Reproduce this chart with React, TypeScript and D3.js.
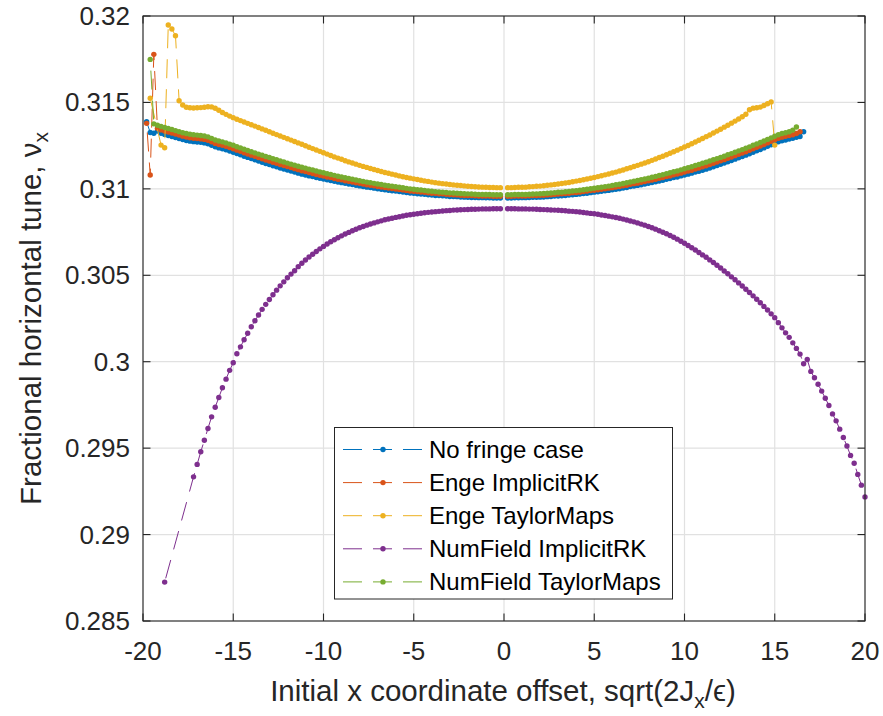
import * as d3 from 'd3';

// tune scan: initial amplitude grid is 0.2 apart, left and right halves run separately
const step = 0.2;

const xTicks = [-20, -15, -10, -5, 0, 5, 10, 15, 20];
const yTicks = [0.285, 0.29, 0.295, 0.3, 0.305, 0.31, 0.315, 0.32];
const yTickLabels = ['0.285', '0.29', '0.295', '0.3', '0.305', '0.31', '0.315', '0.32'];

const seriesNames = [
  'No fringe case',
  'Enge ImplicitRK',
  'Enge TaylorMaps',
  'NumField ImplicitRK',
  'NumField TaylorMaps',
];
const seriesColors = ['#0072BD', '#D95319', '#EDB120', '#7E2F8E', '#77AC30'];

// values listed from x = -0.2 outward (to -20) and from x = 0.2 outward (to 20)
// null = point missing, the dashed line still joins its neighbours
const noFringeLeft = [
  0.30947, 0.30947, 0.30947, 0.30948, 0.30948, 0.30949, 0.30949, 0.3095, 0.3095, 0.30951,
  0.30952, 0.30953, 0.30955, 0.30956, 0.30956, 0.30958, 0.3096, 0.30961, 0.30962, 0.30964,
  0.30966, 0.30969, 0.3097, 0.30972, 0.30975, 0.30976, 0.30979, 0.30982, 0.30984, 0.30987,
  0.30989, 0.30992, 0.30995, 0.30998, 0.31001, 0.31004, 0.31008, 0.3101, 0.31014, 0.31017,
  0.31021, 0.31025, 0.31028, 0.31032, 0.31036, 0.3104, 0.31044, 0.31048, 0.31053, 0.31057,
  0.31061, 0.31066, 0.31071, 0.31075, 0.3108, 0.31085, 0.31091, 0.31097, 0.31103, 0.31109,
  0.31115, 0.31121, 0.31128, 0.31134, 0.31141, 0.31147, 0.31154, 0.31161, 0.31168, 0.31175,
  0.31182, 0.31189, 0.31197, 0.31204, 0.31212, 0.31219, 0.31226, 0.31232, 0.31237, 0.31243,
  0.31252, 0.31261, 0.31266, 0.31269, 0.31271, 0.31273, 0.31276, 0.3128, 0.31285, 0.31291,
  0.31297, 0.31303, 0.31309, 0.31315, 0.31321, 0.31335, 0.31322, 0.31326, 0.31388,
];
const noFringeRight = [
  0.30947, 0.30947, 0.30948, 0.30948, 0.30949, 0.30949, 0.3095, 0.30951, 0.30951, 0.30952,
  0.30953, 0.30955, 0.30956, 0.30958, 0.30959, 0.3096, 0.30962, 0.30964, 0.30966, 0.30968,
  0.3097, 0.30973, 0.30975, 0.30978, 0.30981, 0.30983, 0.30986, 0.30989, 0.30991, 0.30995,
  0.30998, 0.31001, 0.31005, 0.31008, 0.31013, 0.31016, 0.3102, 0.31024, 0.31028, 0.31032,
  0.31037, 0.31041, 0.31045, 0.3105, 0.31055, 0.3106, 0.31065, 0.31069, 0.31075, 0.3108,
  0.31085, 0.31091, 0.31097, 0.31102, 0.31108, 0.31114, 0.31121, 0.31128, 0.31135, 0.31142,
  0.31149, 0.31157, 0.31164, 0.31172, 0.3118, 0.31187, 0.31195, 0.31203, 0.31212, 0.3122,
  0.31228, 0.31237, 0.31246, 0.31255, 0.31264, 0.31272, 0.31278, 0.31283, 0.31288, 0.31293,
  0.31298, 0.31303, 0.3133,
];

const engeRKLeft = [
  0.30957, 0.30957, 0.30957, 0.30958, 0.30958, 0.30959, 0.30959, 0.3096, 0.30961, 0.30962,
  0.30962, 0.30963, 0.30965, 0.30966, 0.30967, 0.30969, 0.30971, 0.30972, 0.30974, 0.30975,
  0.30977, 0.3098, 0.30982, 0.30984, 0.30986, 0.30988, 0.30991, 0.30994, 0.30997, 0.30999,
  0.31002, 0.31005, 0.31008, 0.31011, 0.31014, 0.31018, 0.31021, 0.31024, 0.31028, 0.31032,
  0.31035, 0.3104, 0.31044, 0.31047, 0.31052, 0.31055, 0.3106, 0.31065, 0.31069, 0.31074,
  0.31079, 0.31083, 0.31089, 0.31094, 0.311, 0.31105, 0.31111, 0.31117, 0.31123, 0.31129,
  0.31135, 0.31141, 0.31148, 0.31154, 0.31161, 0.31167, 0.31174, 0.31181, 0.31188, 0.31195,
  0.31202, 0.31209, 0.31217, 0.31224, 0.31232, 0.31239, 0.31246, 0.31252, 0.31257, 0.31263,
  0.31272, 0.31281, 0.31286, 0.31289, 0.31291, 0.31293, 0.31296, 0.313, 0.31305, 0.31311,
  0.31317, 0.31323, 0.31329, 0.31335, 0.31341, 0.3135, 0.31778, 0.3108, 0.31379,
];
const engeRKRight = [
  0.30957, 0.30957, 0.30958, 0.30958, 0.30959, 0.30959, 0.3096, 0.30961, 0.30962, 0.30963,
  0.30963, 0.30965, 0.30966, 0.30968, 0.3097, 0.30971, 0.30973, 0.30975, 0.30978, 0.30979,
  0.30981, 0.30984, 0.30987, 0.3099, 0.30992, 0.30995, 0.30998, 0.31001, 0.31004, 0.31007,
  0.31011, 0.31014, 0.31018, 0.31021, 0.31026, 0.3103, 0.31033, 0.31038, 0.31042, 0.31047,
  0.31051, 0.31056, 0.31061, 0.31065, 0.31071, 0.31075, 0.31081, 0.31086, 0.31091, 0.31097,
  0.31103, 0.31108, 0.31115, 0.31121, 0.31128, 0.31134, 0.31141, 0.31148, 0.31155, 0.31162,
  0.31169, 0.31177, 0.31184, 0.31192, 0.312, 0.31207, 0.31215, 0.31223, 0.31232, 0.3124,
  0.31248, 0.31257, 0.31266, 0.31275, 0.31284, 0.31293, 0.31299, 0.31304, 0.31309, 0.31313,
  0.3132, 0.3133,
];

const engeTMLeft = [
  0.31007, 0.31007, 0.31008, 0.31008, 0.31009, 0.3101, 0.31011, 0.31012, 0.31014, 0.31015,
  0.31017, 0.31019, 0.31021, 0.31023, 0.31025, 0.31028, 0.3103, 0.31033, 0.31036, 0.31039,
  0.31043, 0.31046, 0.3105, 0.31054, 0.31058, 0.31062, 0.31066, 0.3107, 0.31075, 0.3108,
  0.31085, 0.3109, 0.31095, 0.311, 0.31106, 0.31112, 0.31118, 0.31124, 0.3113, 0.31136,
  0.31143, 0.3115, 0.31156, 0.31163, 0.31171, 0.31178, 0.31185, 0.31193, 0.31201, 0.31209,
  0.31217, 0.31225, 0.31233, 0.31241, 0.31249, 0.31258, 0.31266, 0.31274, 0.31282, 0.3129,
  0.31298, 0.31306, 0.31314, 0.31322, 0.3133, 0.31339, 0.31347, 0.31355, 0.31363, 0.31371,
  0.31379, 0.31387, 0.31395, 0.31403, 0.31412, 0.31421, 0.31431, 0.31442, 0.31455, 0.31466,
  0.31474, 0.31475, 0.31472, 0.3147, 0.31469, 0.31468, 0.31469, 0.31472, 0.31485, 0.3151,
  0.31886, 0.31925, 0.31948, 0.31238, 0.31253, null, null, 0.31524,
];
const engeTMRight = [
  0.31007, 0.31007, 0.31008, 0.31009, 0.31009, 0.3101, 0.31012, 0.31013, 0.31015, 0.31016,
  0.31018, 0.31021, 0.31023, 0.31025, 0.31028, 0.31031, 0.31034, 0.31037, 0.31041, 0.31045,
  0.31048, 0.31053, 0.31057, 0.31061, 0.31066, 0.31071, 0.31076, 0.31081, 0.31086, 0.31092,
  0.31097, 0.31103, 0.31109, 0.31116, 0.31122, 0.31129, 0.31136, 0.31143, 0.3115, 0.31157,
  0.31165, 0.31173, 0.31181, 0.31189, 0.31197, 0.31206, 0.31215, 0.31224, 0.31233, 0.31242,
  0.31251, 0.31261, 0.31271, 0.31281, 0.31291, 0.31302, 0.31312, 0.31323, 0.31334, 0.31345,
  0.31357, 0.31368, 0.3138, 0.31392, 0.31404, 0.31417, 0.31432, 0.31458, 0.31467, 0.31469,
  0.31473, 0.31482, 0.31492, 0.31503, 0.31253,
];

const numRKLeft = [
  0.30885, 0.30885, 0.30885, 0.30884, 0.30884, 0.30884, 0.30883, 0.30882, 0.30882, 0.30881,
  0.3088, 0.30879, 0.30878, 0.30877, 0.30875, 0.30874, 0.30872, 0.3087, 0.30868, 0.30866,
  0.30864, 0.30862, 0.30859, 0.30856, 0.30853, 0.3085, 0.30847, 0.30843, 0.30839, 0.30835,
  0.3083, 0.30826, 0.30821, 0.30815, 0.30809, 0.30803, 0.30797, 0.3079, 0.30782, 0.30775,
  0.30766, 0.30758, 0.30748, 0.30739, 0.30728, 0.30717, 0.30706, 0.30694, 0.30681, 0.30667,
  0.30653, 0.30638, 0.30622, 0.30606, 0.30588, 0.3057, 0.3055, 0.30526, 0.30507, 0.30486,
  0.30462, 0.30439, 0.30414, 0.30387, 0.3036, 0.30332, 0.30303, 0.3027, 0.30237, 0.30202,
  0.30165, 0.30127, 0.30086, 0.30046, 0.29994, 0.2995, 0.29899, 0.29849, 0.29793, 0.29737,
  0.29681, 0.29614, 0.29546, 0.29479, 0.29406, 0.29334, null, null, null, null,
  null, null, null, 0.28725,
];
const numRKRight = [
  0.30885, 0.30885, 0.30885, 0.30884, 0.30884, 0.30884, 0.30883, 0.30883, 0.30882, 0.30881,
  0.3088, 0.30879, 0.30878, 0.30877, 0.30876, 0.30875, 0.30873, 0.30871, 0.3087, 0.30868,
  0.30866, 0.30863, 0.30861, 0.30858, 0.30856, 0.30853, 0.30849, 0.30846, 0.30842, 0.30838,
  0.30834, 0.3083, 0.30825, 0.3082, 0.30814, 0.30809, 0.30803, 0.30796, 0.3079, 0.30782,
  0.30775, 0.30767, 0.30758, 0.30749, 0.3074, 0.3073, 0.3072, 0.30709, 0.30697, 0.30685,
  0.30672, 0.30659, 0.30646, 0.30632, 0.30618, 0.30604, 0.30589, 0.30574, 0.30558, 0.30542,
  0.30525, 0.30509, 0.30491, 0.30474, 0.30456, 0.30438, 0.30419, 0.304, 0.30381, 0.30361,
  0.30341, 0.3032, 0.30299, 0.30277, 0.30255, 0.30226, 0.30196, 0.30167, 0.30141, 0.30109,
  0.30077, 0.30044, 0.29988, 0.30013, 0.29944, 0.29907, 0.2987, 0.2983, 0.29789, 0.29747,
  0.29698, 0.29658, 0.2961, 0.29562, 0.29512, 0.29458, 0.29413, 0.29348, 0.29286, 0.29218,
];

const numTMLeft = [
  0.30966, 0.30966, 0.30966, 0.30967, 0.30967, 0.30968, 0.30968, 0.30969, 0.3097, 0.30971,
  0.30972, 0.30973, 0.30975, 0.30976, 0.30977, 0.30979, 0.30981, 0.30982, 0.30984, 0.30986,
  0.30988, 0.30991, 0.30993, 0.30995, 0.30998, 0.31, 0.31003, 0.31006, 0.31009, 0.31012,
  0.31015, 0.31018, 0.31021, 0.31025, 0.31028, 0.31032, 0.31036, 0.31039, 0.31043, 0.31047,
  0.31051, 0.31056, 0.3106, 0.31064, 0.31069, 0.31073, 0.31078, 0.31083, 0.31088, 0.31093,
  0.31098, 0.31103, 0.31109, 0.31114, 0.3112, 0.31125, 0.31131, 0.31137, 0.31143, 0.31149,
  0.31155, 0.31161, 0.31168, 0.31174, 0.31181, 0.31187, 0.31194, 0.31201, 0.31208, 0.31215,
  0.31222, 0.31229, 0.31237, 0.31244, 0.31252, 0.31259, 0.31266, 0.31272, 0.31277, 0.31283,
  0.31292, 0.31301, 0.31306, 0.31309, 0.31311, 0.31313, 0.31316, 0.3132, 0.31325, 0.31331,
  0.31337, 0.31343, 0.31349, 0.31355, 0.31361, 0.31368, 0.31376, 0.31749,
];
const numTMRight = [
  0.30966, 0.30966, 0.30967, 0.30967, 0.30968, 0.30968, 0.30969, 0.3097, 0.30971, 0.30972,
  0.30973, 0.30975, 0.30976, 0.30978, 0.3098, 0.30981, 0.30983, 0.30985, 0.30988, 0.3099,
  0.30992, 0.30995, 0.30998, 0.31001, 0.31004, 0.31007, 0.3101, 0.31013, 0.31016, 0.3102,
  0.31024, 0.31027, 0.31031, 0.31035, 0.3104, 0.31044, 0.31048, 0.31053, 0.31057, 0.31062,
  0.31067, 0.31072, 0.31077, 0.31082, 0.31088, 0.31093, 0.31099, 0.31104, 0.3111, 0.31116,
  0.31122, 0.31128, 0.31135, 0.31141, 0.31148, 0.31154, 0.31161, 0.31168, 0.31175, 0.31182,
  0.31189, 0.31197, 0.31204, 0.31212, 0.3122, 0.31227, 0.31235, 0.31243, 0.31252, 0.3126,
  0.31268, 0.31277, 0.31286, 0.31295, 0.31304, 0.31313, 0.3132, 0.31325, 0.3133, 0.3134,
  0.31358,
];

const seriesHalves = [
  [noFringeLeft, noFringeRight],
  [engeRKLeft, engeRKRight],
  [engeTMLeft, engeTMRight],
  [numRKLeft, numRKRight],
  [numTMLeft, numTMRight],
];

type Pt = [number, number];

// turn an outward list into [x, tune] points, skipping the missing ones
const toPoints = (vals: (number | null)[], sign: number): Pt[] =>
  vals
    .map((v, i) => (v == null ? null : ([sign * step * (i + 1), v] as Pt)))
    .filter((p): p is Pt => p !== null);

const width = 883;
const height = 716;
const margin = { left: 143, right: 18, top: 16, bottom: 95 };
const font = '"Liberation Sans", Arial, Helvetica, sans-serif';
const axisColor = '#262626';
const dash = '19 11';
const markerR = 2.7;

export default function App() {
  const x = d3
    .scaleLinear()
    .domain([-20, 20])
    .range([margin.left, width - margin.right]);
  const y = d3
    .scaleLinear()
    .domain([0.285, 0.32])
    .range([height - margin.bottom, margin.top]);

  const line = d3
    .line<Pt>()
    .x((d) => x(d[0]))
    .y((d) => y(d[1]));

  const [x0, x1] = x.range();
  const [y0, y1] = y.range();
  const tickLen = 7.5;

  const legendX = 334.5;
  const legendY = 427.5;
  const legendRow = 33.1;

  return (
    <svg
      width={width}
      height={height}
      style={{ position: 'absolute', left: 0, top: 0, background: '#fff' }}
      fontFamily={font}
    >
      <rect width={width} height={height} fill="#fff" />

      {/* grid */}
      <g stroke="#e1e1e1" strokeWidth={1.2}>
        {xTicks.map((t) => (
          <line key={'gx' + t} x1={x(t)} x2={x(t)} y1={y0} y2={y1} />
        ))}
        {yTicks.map((t) => (
          <line key={'gy' + t} x1={x0} x2={x1} y1={y(t)} y2={y(t)} />
        ))}
      </g>

      {/* data: line + dot markers, in plot order */}
      {seriesHalves.map((halves, si) => (
        <g key={seriesNames[si]}>
          {halves.map((vals, hi) => {
            const pts = toPoints(vals, hi === 0 ? -1 : 1);
            return (
              <g key={hi}>
                <path
                  d={line(pts) || ''}
                  fill="none"
                  stroke={seriesColors[si]}
                  strokeWidth={1}
                  strokeDasharray={dash}
                />
                {pts.map((p, i) => (
                  <circle
                    key={i}
                    cx={x(p[0])}
                    cy={y(p[1])}
                    r={markerR}
                    fill={seriesColors[si]}
                  />
                ))}
              </g>
            );
          })}
        </g>
      ))}

      {/* box and ticks */}
      <g stroke={axisColor} strokeWidth={1.1} fill="none">
        <rect x={x0} y={y1} width={x1 - x0} height={y0 - y1} />
        {xTicks.map((t) => (
          <g key={'tx' + t}>
            <line x1={x(t)} x2={x(t)} y1={y0} y2={y0 - tickLen} />
            <line x1={x(t)} x2={x(t)} y1={y1} y2={y1 + tickLen} />
          </g>
        ))}
        {yTicks.map((t) => (
          <g key={'ty' + t}>
            <line x1={x0} x2={x0 + tickLen} y1={y(t)} y2={y(t)} />
            <line x1={x1} x2={x1 - tickLen} y1={y(t)} y2={y(t)} />
          </g>
        ))}
      </g>

      {/* tick labels */}
      <g fill={axisColor} fontSize={26}>
        {xTicks.map((t) => (
          <text key={'lx' + t} x={x(t)} y={660} textAnchor="middle">
            {String(t)}
          </text>
        ))}
        {yTicks.map((t, i) => (
          <text key={'ly' + t} x={130} y={y(t) + 9} textAnchor="end">
            {yTickLabels[i]}
          </text>
        ))}
      </g>

      {/* axis labels */}
      <text
        x={(x0 + x1) / 2 - 1}
        y={701}
        textAnchor="middle"
        fontSize={29.5}
        fill={axisColor}
      >
        Initial x coordinate offset, sqrt(2J
        <tspan dy={7} fontSize={21}>
          x
        </tspan>
        <tspan dy={-7}>/ϵ)</tspan>
      </text>
      <text
        transform={`translate(41,${(y0 + y1) / 2}) rotate(-90)`}
        textAnchor="middle"
        fontSize={29.5}
        fill={axisColor}
      >
        Fractional horizontal tune, ν
        <tspan dy={7} fontSize={21}>
          x
        </tspan>
      </text>

      {/* legend */}
      <g>
        <rect
          x={legendX}
          y={legendY}
          width={338}
          height={171.5}
          fill="#fff"
          stroke={axisColor}
          strokeWidth={1}
        />
        {seriesNames.map((name, i) => {
          const cy = legendY + 22 + i * legendRow;
          return (
            <g key={name}>
              <line
                x1={343}
                x2={423}
                y1={cy}
                y2={cy}
                stroke={seriesColors[i]}
                strokeWidth={1}
                strokeDasharray={dash}
              />
              <circle cx={383} cy={cy} r={markerR} fill={seriesColors[i]} />
              <text x={429} y={cy + 8.5} fontSize={24} fill="#000">
                {name}
              </text>
            </g>
          );
        })}
      </g>
    </svg>
  );
}
